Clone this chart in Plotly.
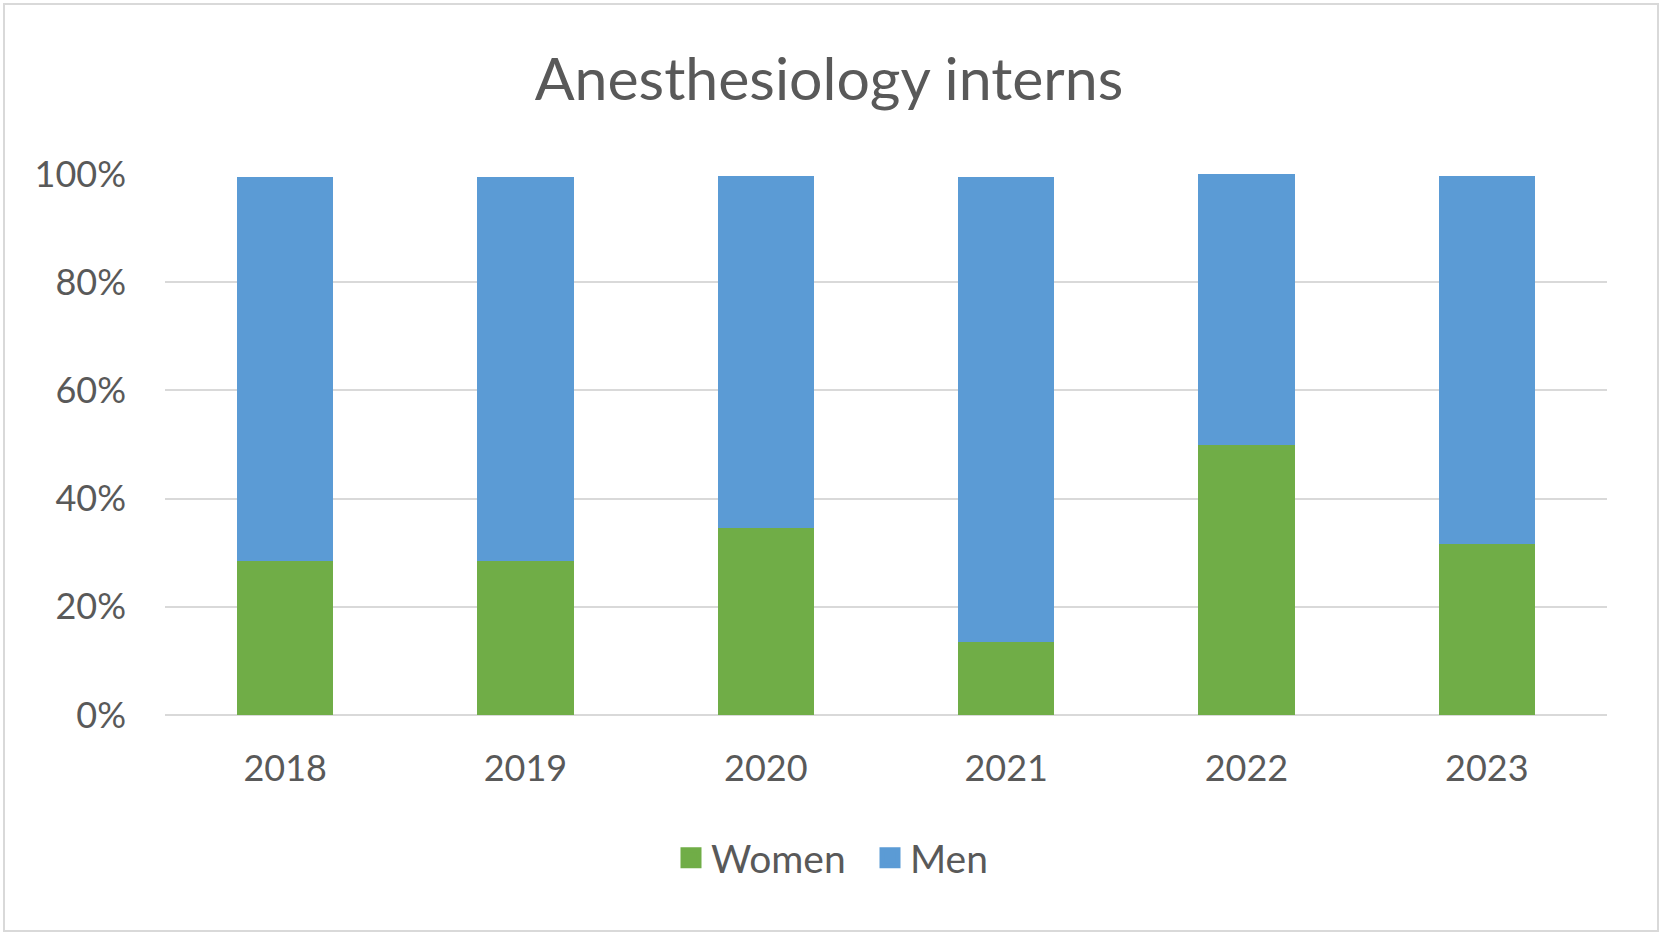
import plotly.graph_objects as go

# data (share of interns, %)
years = ["2018", "2019", "2020", "2021", "2022", "2023"]
women = [28.5, 28.5, 34.6, 13.5, 50.0, 31.6]
men = [71.0, 71.0, 65.1, 86.0, 50.0, 68.1]
y_ticks = [0, 20, 40, 60, 80, 100]
y_tick_labels = ["0%", "20%", "40%", "60%", "80%", "100%"]

green = "#70AD47"
blue = "#5B9BD5"
text_col = "#595959"
grid_col = "#D9D9D9"

W, H = 1663, 935
L, R, T, B = 165, 56, 174, 220

fig = go.Figure()
fig.add_trace(go.Bar(x=years, y=women, name="Women", marker_color=green,
                     marker_line_width=0, showlegend=False))
fig.add_trace(go.Bar(x=years, y=men, name="Men", marker_color=blue,
                     marker_line_width=0, showlegend=False))

# legend entries with bigger squares than plotly's default bar swatch
for name, col in [("Women", green), ("Men", blue)]:
    fig.add_trace(go.Scatter(x=[None], y=[None], mode="markers", name=name,
                             marker=dict(symbol="square", size=16, color=col,
                                         line=dict(color=col, width=5))))

pw = W - L - R
ph = H - T - B
# light outer border of the chart area
fig.add_shape(type="rect", xref="paper", yref="paper",
              x0=(4 - L) / pw, x1=(1658 - L) / pw,
              y0=1 - (931 - T) / ph, y1=1 - (4 - T) / ph,
              line=dict(color=grid_col, width=2), layer="below")

fig.update_layout(
    width=W, height=H,
    margin=dict(l=L, r=R, t=T, b=B),
    paper_bgcolor="white", plot_bgcolor="white",
    barmode="stack", bargap=0.6,
    font=dict(family="Lato, 'Open Sans', sans-serif", color=text_col, size=36),
    title=dict(text="Anesthesiology interns", x=829 / W, xanchor="center",
               y=1 - 79 / H, yanchor="middle",
               font=dict(size=59, color=text_col)),
    legend=dict(orientation="h", traceorder="normal",
                x=(870 - L) / pw, xanchor="center",
                y=1 - (858 - T) / ph, yanchor="middle",
                entrywidth=154, entrywidthmode="pixels",
                font=dict(size=39, color=text_col), itemclick=False),
    showlegend=True,
)
fig.update_xaxes(showgrid=False, showline=False, ticks="", ticklabelstandoff=29,
                 tickfont=dict(size=36))
fig.update_yaxes(range=[0, 100], tickvals=y_ticks, ticktext=y_tick_labels,
                 showgrid=True, gridcolor=grid_col, gridwidth=2,
                 zeroline=True, zerolinecolor=grid_col, zerolinewidth=2,
                 showline=False, ticks="", ticklabelstandoff=38,
                 tickfont=dict(size=36))

# drop the default 8px body margin so the figure fills the window
fig.write_html("out.html", config={"displayModeBar": False},
               post_script="document.body.style.margin = '0';")
